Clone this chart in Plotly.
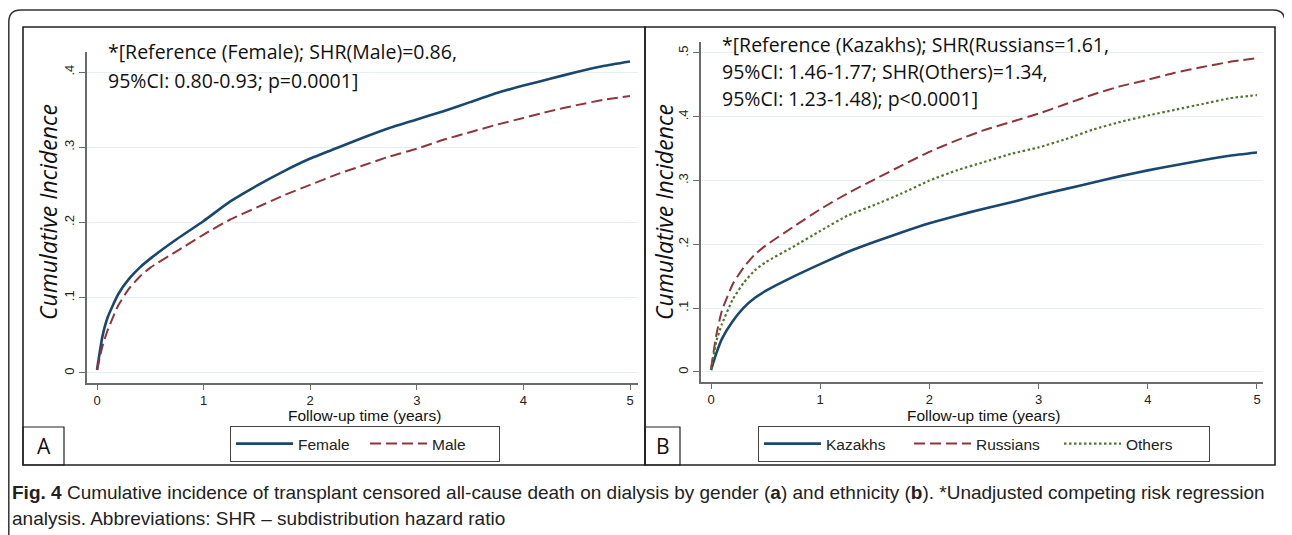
import plotly.graph_objects as go

# ---------------- data ----------------
years = [0, 0.05, 0.1, 0.2, 0.3, 0.4, 0.5, 0.75, 1.0, 1.25, 1.5, 1.75, 2.0, 2.25, 2.5,
         2.75, 3.0, 3.25, 3.5, 3.75, 4.0, 4.25, 4.5, 4.75, 5.0]

female = [0.004, 0.048, 0.074, 0.105, 0.125, 0.140, 0.152, 0.178, 0.202, 0.228, 0.249, 0.268, 0.285,
          0.299, 0.313, 0.326, 0.337, 0.348, 0.360, 0.372, 0.382, 0.391, 0.400, 0.408, 0.414]
male = [0.004, 0.035, 0.057, 0.090, 0.112, 0.128, 0.140, 0.162, 0.184, 0.204, 0.220, 0.236, 0.250,
        0.264, 0.276, 0.288, 0.298, 0.310, 0.320, 0.330, 0.339, 0.348, 0.356, 0.363, 0.368]

kazakhs = [0.003, 0.030, 0.052, 0.080, 0.101, 0.116, 0.127, 0.149, 0.169, 0.188, 0.204, 0.219, 0.233,
           0.245, 0.256, 0.266, 0.277, 0.287, 0.297, 0.307, 0.316, 0.324, 0.332, 0.339, 0.344]
russians = [0.005, 0.059, 0.096, 0.138, 0.164, 0.184, 0.198, 0.227, 0.255, 0.280, 0.302, 0.324, 0.345,
            0.363, 0.379, 0.392, 0.405, 0.420, 0.435, 0.448, 0.458, 0.469, 0.478, 0.486, 0.492]
others = [0.004, 0.049, 0.075, 0.114, 0.140, 0.159, 0.172, 0.196, 0.221, 0.245, 0.262, 0.280, 0.300,
          0.316, 0.329, 0.342, 0.352, 0.365, 0.380, 0.392, 0.402, 0.411, 0.420, 0.429, 0.434]

x_ticks = [0, 1, 2, 3, 4, 5]
x_tick_labels = ["0", "1", "2", "3", "4", "5"]
yA_ticks = [0, 0.1, 0.2, 0.3, 0.4]
yA_tick_labels = ["0", ".1", ".2", ".3", ".4"]
yB_ticks = [0, 0.1, 0.2, 0.3, 0.4, 0.5]
yB_tick_labels = ["0", ".1", ".2", ".3", ".4", ".5"]

noteA = ["*[Reference (Female); SHR(Male)=0.86,",
         "95%CI: 0.80-0.93; p=0.0001]"]
noteB = ["*[Reference (Kazakhs); SHR(Russians=1.61,",
         "95%CI: 1.46-1.77; SHR(Others)=1.34,",
         "95%CI: 1.23-1.48); p<0.0001]"]
caption1 = ("<b>Fig. 4</b> Cumulative incidence of transplant censored all-cause death on dialysis "
            "by gender (<b>a</b>) and ethnicity (<b>b</b>). *Unadjusted competing risk regression")
caption2 = "analysis. Abbreviations: SHR \u2013 subdistribution hazard ratio"

# ---------------- style ----------------
W, H = 1292, 535
OFF = 8  # page body margin
NAVY, MAROON, GREEN = "#1a476f", "#90353b", "#55752f"
ARIAL = "Liberation Sans, Arial, sans-serif"
HUMAN = "Open Sans, Lato, sans-serif"
GRID = "#e6eff1"
AXC = "#6b6b6b"


def px(x):
    return (x - OFF) / W


def py(y):
    return 1 - (y - OFF) / H


fig = go.Figure()
SPL = dict(shape="spline", smoothing=0.5)
fig.add_trace(go.Scatter(x=years, y=female, mode="lines", name="Female", xaxis="x", yaxis="y",
                         line=dict(color=NAVY, width=2.6, **SPL), legend="legend"))
fig.add_trace(go.Scatter(x=years, y=male, mode="lines", name="Male", xaxis="x", yaxis="y",
                         line=dict(color=MAROON, width=2.0, dash="11px,5px", **SPL), legend="legend"))
fig.add_trace(go.Scatter(x=years, y=kazakhs, mode="lines", name="Kazakhs", xaxis="x2", yaxis="y2",
                         line=dict(color=NAVY, width=2.6, **SPL), legend="legend2"))
fig.add_trace(go.Scatter(x=years, y=russians, mode="lines", name="Russians", xaxis="x2", yaxis="y2",
                         line=dict(color=MAROON, width=2.0, dash="11px,5px", **SPL), legend="legend2"))
fig.add_trace(go.Scatter(x=years, y=others, mode="lines", name="Others", xaxis="x2", yaxis="y2",
                         line=dict(color=GREEN, width=2.2, dash="2.5px,2.5px", **SPL), legend="legend2"))

xaxis_common = dict(tickvals=x_ticks, ticktext=x_tick_labels, ticks="outside", ticklen=5, tickwidth=1,
                    tickcolor=AXC, showline=True, linecolor=AXC, linewidth=1.6, showgrid=False,
                    zeroline=False, tickfont=dict(family=ARIAL, size=13, color="#222"), fixedrange=True)
yaxis_common = dict(ticks="outside", ticklen=6, tickwidth=1, tickcolor=AXC, showline=True,
                    linecolor=AXC, linewidth=1.6, showgrid=True, gridcolor=GRID, gridwidth=1.2,
                    zeroline=False, tickangle=-90, tickfont=dict(family=ARIAL, size=13, color="#222"),
                    fixedrange=True)

legend_common = dict(orientation="h", xanchor="center", yanchor="middle", bordercolor="#444",
                     borderwidth=1, bgcolor="white", itemwidth=57,
                     font=dict(family=ARIAL, size=15.5, color="#222"), tracegroupgap=0)

fig.update_layout(
    width=W, height=H, margin=dict(l=0, r=0, t=0, b=0),
    paper_bgcolor="white", plot_bgcolor="white",
    xaxis=dict(domain=[px(87), px(638)], range=[-0.094, 5.075], anchor="y", **xaxis_common),
    yaxis=dict(domain=[py(383), py(52)], range=[-0.0133, 0.4266], anchor="x",
               tickvals=yA_ticks, ticktext=yA_tick_labels, **yaxis_common),
    xaxis2=dict(domain=[px(701), px(1263)], range=[-0.0916, 5.055], anchor="y2", **xaxis_common),
    yaxis2=dict(domain=[py(382), py(42)], range=[-0.0157, 0.5172], anchor="x2",
                tickvals=yB_ticks, ticktext=yB_tick_labels, **yaxis_common),
    legend=dict(x=px(365), y=py(444), entrywidth=62, **legend_common),
    legend2=dict(x=px(984), y=py(444), entrywidth=78, **legend_common),
    showlegend=True,
)

shapes = []
# outer rounded frame
x0, x1, yt, yb = px(8.8), px(1285), py(10), -0.05
rx, ry = 12 / W, 12 / H
shapes.append(dict(type="path", xref="paper", yref="paper",
                   path=f"M {x0},{yb} L {x0},{yt - ry} Q {x0},{yt} {x0 + rx},{yt} "
                        f"L {x1 - rx},{yt} Q {x1},{yt} {x1},{yt - ry} L {x1},{yb}",
                   line=dict(color="#333", width=1.5)))
# panel boxes
for (a, b) in [(23, 645), (645, 1275)]:
    shapes.append(dict(type="rect", xref="paper", yref="paper", x0=px(a), x1=px(b), y0=py(465), y1=py(27),
                       line=dict(color="#222", width=1.6)))
# letter boxes
for (a, b) in [(23, 64), (645, 680)]:
    shapes.append(dict(type="rect", xref="paper", yref="paper", x0=px(a), x1=px(b), y0=py(465), y1=py(427),
                       line=dict(color="#222", width=1.2)))
fig.update_layout(shapes=shapes)

ann = []
for i, t in enumerate(noteA):
    ann.append(dict(text=t, xref="paper", yref="paper", x=px(106), y=py(52 + 28 * i), xanchor="left",
                    yanchor="middle", showarrow=False, font=dict(family=HUMAN, size=19.5, color="#111")))
for i, t in enumerate(noteB):
    ann.append(dict(text=t, xref="paper", yref="paper", x=px(720), y=py(45 + 26.5 * i), xanchor="left",
                    yanchor="middle", showarrow=False, font=dict(family=HUMAN, size=19.5, color="#111")))
for cx in (48, 664):
    ann.append(dict(text="<i>Cumulative Incidence</i>", xref="paper", yref="paper", x=px(cx), y=py(212),
                    xanchor="center", yanchor="middle", textangle=-90, showarrow=False,
                    font=dict(family=HUMAN, size=23, color="#111")))
for cx in (364, 984):
    ann.append(dict(text="Follow-up time (years)", xref="paper", yref="paper", x=px(cx), y=py(415),
                    xanchor="center", yanchor="middle", showarrow=False,
                    font=dict(family=ARIAL, size=15.5, color="#111")))
for cx, lab in ((43.5, "A"), (662.5, "B")):
    ann.append(dict(text=lab, xref="paper", yref="paper", x=px(cx), y=py(446), xanchor="center",
                    yanchor="middle", showarrow=False, font=dict(family=HUMAN, size=21, color="#111")))
ann.append(dict(text=caption1, xref="paper", yref="paper", x=px(10), y=py(492), xanchor="left",
                yanchor="middle", showarrow=False, font=dict(family=ARIAL, size=19, color="#222")))
ann.append(dict(text=caption2, xref="paper", yref="paper", x=px(10), y=py(518), xanchor="left",
                yanchor="middle", showarrow=False, font=dict(family=ARIAL, size=19, color="#222")))
fig.update_layout(annotations=ann)

fig.write_html("out.html")
